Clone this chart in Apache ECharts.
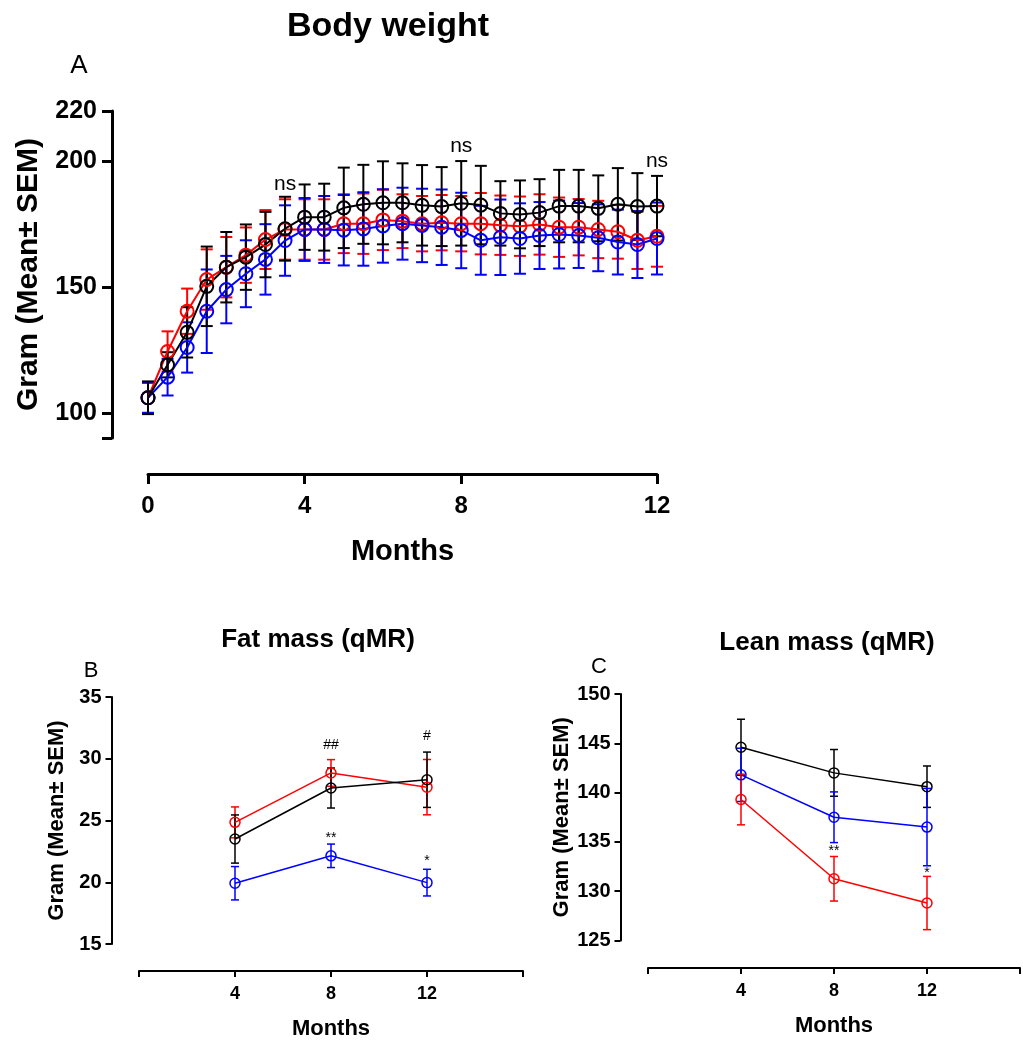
<!DOCTYPE html>
<html>
<head>
<meta charset="utf-8">
<script src="https://cdn.jsdelivr.net/npm/echarts@6/dist/echarts.min.js"></script>
<style>
html, body { margin: 0; padding: 0; background: #fff; }
#main { width: 1023px; height: 1041px; }
</style>
</head>
<body>
<div id="main"></div>
<script>
// NOTE - body weight, 27 time points, labels only at 0 / 4 / 8 / 12
const weightTicks = ['0', '', '', '', '', '', '', '', '4', '', '', '', '', '', '', '', '8', '', '', '', '', '', '', '', '', '', '12']
const weightRed = [106, 124.4, 140.4, 153.0, 157.9, 162.7, 168.9, 172.9, 172.9, 172.9, 175.2, 175.2, 176.7, 176.2, 175.2, 175.6, 175.2, 175.2, 174.6, 174.2, 174.9, 173.8, 173.8, 172.9, 172.0, 168.6, 170.2]
const weightRedSem = [6, 8, 9, 12, 12, 11, 11.7, 12, 12, 12, 11.7, 12, 12, 10.7, 11, 11, 11, 12.2, 11.8, 11.8, 12, 11.8, 11.2, 11.4, 10.7, 11.4, 12.1]
const weightBlue = [106, 114.2, 126.0, 140.4, 149.0, 155.3, 161.0, 168.5, 172.9, 172.9, 172.6, 173.1, 174.3, 175.2, 174.5, 173.8, 172.5, 168.6, 169.8, 169.3, 170.5, 170.9, 170.5, 169.6, 167.9, 166.9, 169.3]
const weightBlueSem = [6, 7.3, 10, 16.6, 13.4, 13.3, 14, 14, 12.5, 13.3, 14, 14.6, 14.6, 14.3, 14.6, 15, 15, 13.7, 15, 14, 13.3, 13.5, 12.9, 13.3, 12.9, 13.3, 14.3]
const weightBlack = [106, 119.1, 132.0, 150.3, 157.9, 161.9, 166.9, 173.2, 177.8, 177.8, 181.5, 182.9, 183.5, 183.5, 182.5, 182.0, 183.3, 182.6, 179.3, 178.9, 179.6, 182.2, 182.2, 181.3, 182.9, 182.0, 182.2]
const weightBlackSem = [6.5, 5, 10, 15.8, 14, 13, 13, 12.7, 13, 13.3, 16, 15.7, 16.5, 15.7, 16, 15.7, 16.8, 15.6, 12.8, 13.5, 13.3, 14.4, 14.4, 13.1, 14.4, 13.3, 12]
const weightYLabels = [100, 150, 200, 220]
const weightYTicks = [90, 100, 150, 200, 220]
const nsX = [7, 16, 26]
const nsY = [191, 206, 200]
const nsText = ['ns', 'ns', 'ns']

// NOTE - qMR months
const qmrMonths = [4, 8, 12]
const fatRed = [24.85, 28.85, 27.7]
const fatRedSem = [1.25, 1.08, 2.24]
const fatBlack = [23.5, 27.63, 28.3]
const fatBlackSem = [1.95, 1.62, 2.24]
const fatBlue = [19.92, 22.14, 19.97]
const fatBlueSem = [1.35, 0.95, 1.08]
const fatMarkX = [8, 12, 8, 12]
const fatMarkY = [31.1, 31.8, 23.6, 21.7]
const fatMarkText = ['##', '#', '**', '*']

const leanBlack = [144.6, 142.0, 140.6]
const leanBlackSem = [2.84, 2.37, 2.1]
const leanBlue = [141.8, 137.5, 136.5]
const leanBlueSem = [2.7, 2.57, 3.92]
const leanRed = [139.3, 131.26, 128.8]
const leanRedSem = [2.57, 2.26, 2.7]
const leanMarkX = [8, 12]
const leanMarkY = [134.1, 131.8]
const leanMarkText = ['**', '*']

const RED = '#ff0000'
const BLUE = '#0000ff'
const BLACK = '#000000'
const FONT = '"Liberation Sans", Arial, sans-serif'

const myChart = echarts.init(document.querySelector('#main'))

// NOTE - error bars as custom series
const errorBars = (xIdx, xs, means, sems, color, cap, width) => ({
    type: 'custom',
    xAxisIndex: xIdx,
    yAxisIndex: xIdx,
    silent: true,
    z: 2,
    encode: { x: 0, y: [1, 2] },
    data: means.map((m, i) => [xs[i], m - sems[i], m + sems[i]]),
    renderItem: (params, api) => {
        const lo = api.coord([api.value(0), api.value(1)])
        const hi = api.coord([api.value(0), api.value(2)])
        const st = { stroke: color, lineWidth: width }
        return {
            type: 'group',
            children: [
                { type: 'line', shape: { x1: lo[0], y1: lo[1], x2: hi[0], y2: hi[1] }, style: st },
                { type: 'line', shape: { x1: hi[0] - cap, y1: hi[1], x2: hi[0] + cap, y2: hi[1] }, style: st },
                { type: 'line', shape: { x1: lo[0] - cap, y1: lo[1], x2: lo[0] + cap, y2: lo[1] }, style: st }
            ]
        }
    }
})

const meanLine = (xIdx, xs, means, color, size, width) => ({
    type: 'line',
    xAxisIndex: xIdx,
    yAxisIndex: xIdx,
    silent: true,
    z: 3,
    data: means.map((m, i) => [xs[i], m]),
    symbol: 'circle',
    symbolSize: size,
    showAllSymbol: true,
    lineStyle: { color: color, width: width },
    itemStyle: { color: 'rgba(255,255,255,0)', borderColor: color, borderWidth: width }
})

const marks = (xIdx, xs, ys, texts, fontSize) => ({
    type: 'custom',
    xAxisIndex: xIdx,
    yAxisIndex: xIdx,
    silent: true,
    z: 5,
    data: xs.map((x, i) => [x, ys[i]]),
    renderItem: (params, api) => {
        const pt = api.coord([api.value(0), api.value(1)])
        return {
            type: 'text',
            x: pt[0],
            y: pt[1],
            style: {
                text: texts[params.dataIndex],
                fill: '#000',
                font: `${fontSize}px ${FONT}`,
                align: 'center',
                verticalAlign: 'middle'
            }
        }
    }
})

const idx = weightTicks.map((t, i) => i)

const axisBase = (w) => ({
    axisLine: { show: true, onZero: false, lineStyle: { color: '#000', width: w } },
    splitLine: { show: false }
})

const smallX = (gi, offset) => ({
    ...axisBase(2),
    type: 'value',
    gridIndex: gi,
    min: 0,
    max: 16,
    interval: 4,
    offset: offset,
    axisTick: { show: true, length: 6, lineStyle: { width: 2, color: '#000' } },
    axisLabel: {
        color: '#000', fontSize: 18, fontWeight: 'bold', fontFamily: FONT, margin: 14,
        formatter: v => (v === 0 || v === 16) ? '' : String(v)
    },
    name: 'Months',
    nameLocation: 'middle',
    nameGap: 47,
    nameTextStyle: { color: '#000', fontSize: 22, fontWeight: 'bold', fontFamily: FONT }
})

const smallY = (gi, min, max, offset) => ({
    ...axisBase(2),
    type: 'value',
    gridIndex: gi,
    min: min,
    max: max,
    interval: 5,
    offset: offset,
    axisTick: { show: true, length: 6, lineStyle: { width: 2, color: '#000' } },
    axisLabel: { color: '#000', fontSize: 20, fontWeight: 'bold', fontFamily: FONT, margin: 10 },
    name: 'Gram (Mean± SEM)',
    nameLocation: 'middle',
    nameGap: 44,
    nameTextStyle: { color: '#000', fontSize: 22, fontWeight: 'bold', fontFamily: FONT }
})

const textEl = (text, x, y, size, weight) => ({
    type: 'text',
    x: x,
    y: y,
    style: {
        text: text,
        fill: '#000',
        font: `${weight} ${size}px ${FONT}`,
        align: 'center',
        verticalAlign: 'middle'
    }
})

const option = {
    animation: false,
    backgroundColor: '#fff',
    grid: [
        { left: 148, top: 111, width: 509, height: 327 },
        { left: 139, top: 697, width: 384, height: 247 },
        { left: 648, top: 694, width: 383, height: 246.5 }
    ],
    xAxis: [
        {
            ...axisBase(3),
            type: 'category',
            gridIndex: 0,
            data: weightTicks,
            boundaryGap: false,
            offset: 36,
            axisTick: { show: true, length: 10, interval: (i, v) => v !== '', lineStyle: { width: 3, color: '#000' } },
            axisLabel: { interval: (i, v) => v !== '', color: '#000', fontSize: 24, fontWeight: 'bold', fontFamily: FONT, margin: 20 },
            name: 'Months',
            nameLocation: 'middle',
            nameGap: 63,
            nameTextStyle: { color: '#000', fontSize: 29, fontWeight: 'bold', fontFamily: FONT }
        },
        smallX(1, 27),
        smallX(2, 27.5)
    ],
    yAxis: [
        {
            ...axisBase(3),
            type: 'value',
            gridIndex: 0,
            min: 90,
            max: 220,
            offset: 36,
            axisTick: { show: true, length: 10, customValues: weightYTicks, lineStyle: { width: 3, color: '#000' } },
            axisLabel: { customValues: weightYLabels, color: '#000', fontSize: 25, fontWeight: 'bold', fontFamily: FONT, margin: 15 },
            name: 'Gram (Mean± SEM)',
            nameLocation: 'middle',
            nameGap: 68,
            nameTextStyle: { color: '#000', fontSize: 30, fontWeight: 'bold', fontFamily: FONT }
        },
        smallY(1, 15, 35, 27.5),
        smallY(2, 125, 150, 27.5)
    ],
    graphic: [
        textEl('Body weight', 388, 27, 34, 'bold'),
        textEl('A', 79, 66, 26, 'normal'),
        textEl('Fat mass (qMR)', 318, 640, 26, 'bold'),
        textEl('B', 91, 671, 22, 'normal'),
        textEl('Lean mass (qMR)', 827, 643, 26, 'bold'),
        textEl('C', 599, 667, 22, 'normal')
    ],
    series: [
        errorBars(0, idx, weightRed, weightRedSem, RED, 6, 2),
        errorBars(0, idx, weightBlue, weightBlueSem, BLUE, 6, 2),
        errorBars(0, idx, weightBlack, weightBlackSem, BLACK, 6, 2),
        meanLine(0, idx, weightRed, RED, 13, 2),
        meanLine(0, idx, weightBlue, BLUE, 13, 2),
        meanLine(0, idx, weightBlack, BLACK, 13, 2),
        marks(0, nsX, nsY, nsText, 21),

        errorBars(1, qmrMonths, fatRed, fatRedSem, RED, 4, 1.5),
        errorBars(1, qmrMonths, fatBlack, fatBlackSem, BLACK, 4, 1.5),
        errorBars(1, qmrMonths, fatBlue, fatBlueSem, BLUE, 4, 1.5),
        meanLine(1, qmrMonths, fatRed, RED, 10, 1.5),
        meanLine(1, qmrMonths, fatBlack, BLACK, 10, 1.5),
        meanLine(1, qmrMonths, fatBlue, BLUE, 10, 1.5),
        marks(1, fatMarkX, fatMarkY, fatMarkText, 14),

        errorBars(2, qmrMonths, leanBlack, leanBlackSem, BLACK, 4, 1.5),
        errorBars(2, qmrMonths, leanBlue, leanBlueSem, BLUE, 4, 1.5),
        errorBars(2, qmrMonths, leanRed, leanRedSem, RED, 4, 1.5),
        meanLine(2, qmrMonths, leanBlack, BLACK, 10, 1.5),
        meanLine(2, qmrMonths, leanBlue, BLUE, 10, 1.5),
        meanLine(2, qmrMonths, leanRed, RED, 10, 1.5),
        marks(2, leanMarkX, leanMarkY, leanMarkText, 14)
    ]
}
myChart.setOption(option)
</script>
</body>
</html>
